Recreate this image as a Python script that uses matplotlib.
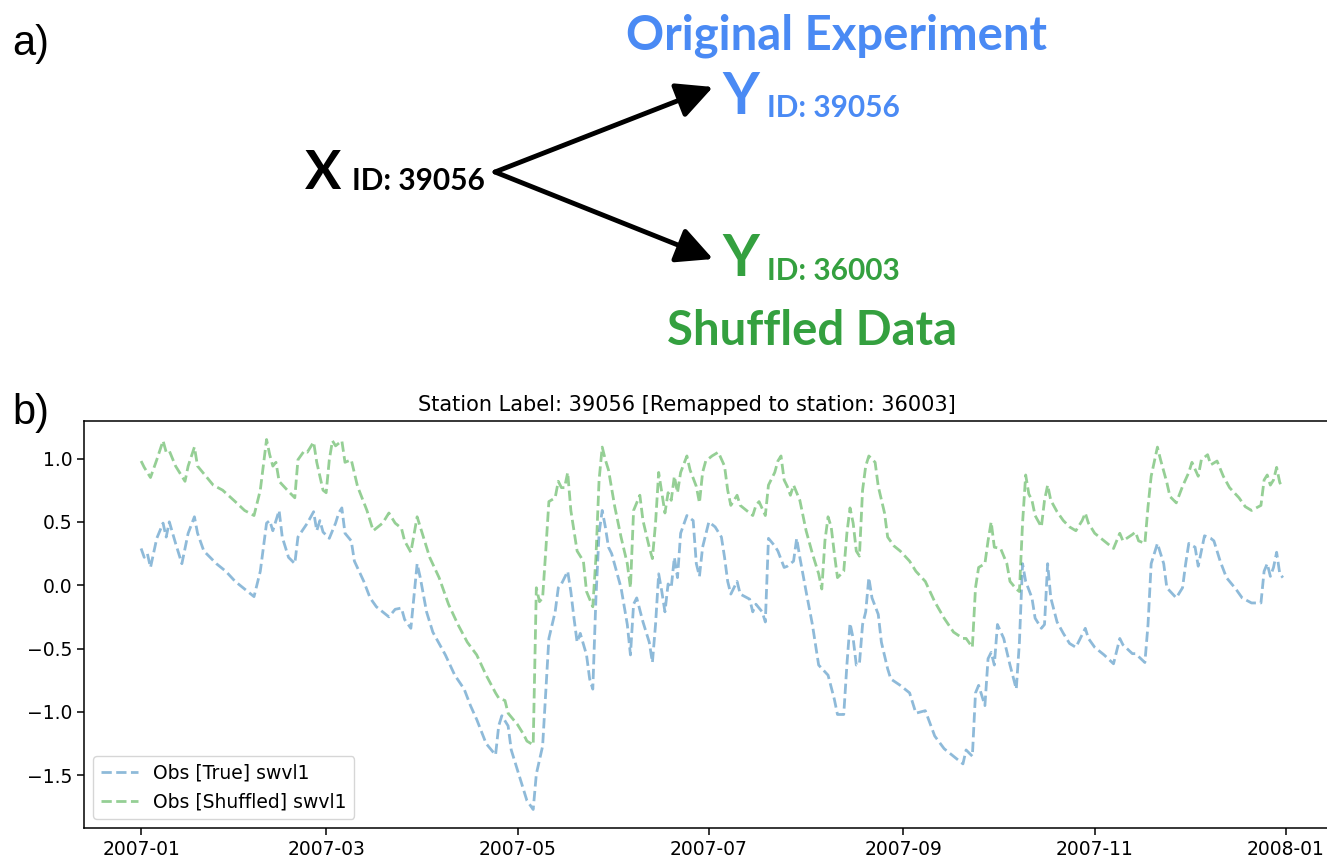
import numpy as np
import pandas as pd
import matplotlib
matplotlib.use("Agg")
import matplotlib.pyplot as plt

# ----------------------------
# Data (day offset from 2007-01-01, value)
# ----------------------------
true_days = [0, 1, 2, 3, 5, 7, 8, 9, 11, 13, 15, 17, 18, 20, 24, 27, 30, 33, 36, 38,
             40, 41, 42, 44, 45, 47, 49, 50, 53, 55, 56, 57, 58, 60, 62, 63, 64, 65, 67, 68,
             71, 73, 75, 79, 81, 83, 84, 86, 88, 89, 91, 93, 97, 100, 103, 105, 107, 110, 113, 114,
             115, 117, 118, 121, 123, 125, 126, 128, 129, 130, 132, 133, 134, 136, 137, 138, 139, 140, 142, 143,
             144, 145, 146, 147, 148, 149, 150, 153, 155, 156, 157, 158, 160, 162, 163, 164, 165, 166, 167, 168,
             169, 170, 171, 172, 174, 176, 177, 178, 179, 181, 183, 185, 186, 187, 188, 189, 190, 191, 194, 195,
             196, 198, 199, 200, 202, 203, 205, 206, 208, 209, 210, 212, 214, 216, 219, 221, 222, 224, 225, 226,
             227, 228, 229, 230, 231, 232, 233, 235, 236, 238, 239, 242, 245, 247, 250, 253, 256, 259, 261, 262,
             263, 265, 266, 267, 269, 270, 271, 272, 273, 275, 277, 279, 280, 281, 282, 284, 285, 287, 288, 289,
             290, 292, 294, 296, 298, 300, 301, 302, 304, 307, 310, 312, 313, 316, 317, 320, 321, 322, 324, 326,
             327, 330, 332, 333, 334, 336, 337, 338, 339, 341, 342, 344, 346, 349, 351, 354, 357, 358, 359, 360,
             361, 362, 363, 364]
true_vals = [0.29, 0.22, 0.25, 0.14, 0.37, 0.49, 0.38, 0.50, 0.33, 0.17, 0.41, 0.54, 0.41, 0.27, 0.17, 0.11, 0.03, -0.03, -0.09, 0.11,
             0.49, 0.51, 0.43, 0.59, 0.38, 0.22, 0.17, 0.38, 0.49, 0.58, 0.43, 0.51, 0.42, 0.37, 0.49, 0.57, 0.61, 0.41, 0.35, 0.19,
             0.03, -0.10, -0.17, -0.25, -0.19, -0.18, -0.27, -0.34, 0.17, 0.06, -0.21, -0.37, -0.55, -0.71, -0.82, -0.95, -1.06, -1.25, -1.34, -1.11,
             -1.03, -1.11, -1.30, -1.54, -1.70, -1.77, -1.49, -1.27, -0.85, -0.42, -0.21, -0.02, 0.01, 0.11, -0.05, -0.26, -0.45, -0.38, -0.55, -0.74,
             -0.82, -0.10, 0.41, 0.59, 0.46, 0.30, 0.25, -0.02, -0.31, -0.55, -0.15, -0.10, -0.29, -0.45, -0.61, -0.31, 0.09, -0.05, -0.21, 0.01,
             -0.02, 0.22, 0.06, 0.41, 0.55, 0.51, 0.17, 0.07, 0.30, 0.50, 0.46, 0.38, 0.22, 0.03, -0.07, -0.02, 0.03, -0.07, -0.11, -0.21,
             -0.15, -0.21, -0.29, 0.37, 0.31, 0.27, 0.14, 0.15, 0.19, 0.37, 0.22, -0.05, -0.31, -0.63, -0.71, -0.90, -1.02, -1.02, -0.63, -0.30,
             -0.42, -0.63, -0.62, -0.31, -0.21, 0.06, -0.10, -0.23, -0.45, -0.66, -0.74, -0.79, -0.85, -1.01, -0.99, -1.19, -1.29, -1.35, -1.39, -1.41,
             -1.30, -1.35, -0.85, -0.79, -0.95, -0.58, -0.53, -0.63, -0.31, -0.42, -0.63, -0.82, -0.45, 0.17, 0.03, -0.10, -0.26, -0.34, -0.31, 0.17,
             -0.10, -0.29, -0.38, -0.46, -0.49, -0.39, -0.34, -0.42, -0.49, -0.55, -0.62, -0.42, -0.47, -0.54, -0.54, -0.61, -0.31, 0.17, 0.33, 0.17,
             -0.02, -0.10, -0.02, 0.17, 0.33, 0.30, 0.15, 0.27, 0.39, 0.37, 0.35, 0.19, 0.06, -0.03, -0.10, -0.14, -0.14, 0.11, 0.17, 0.07,
             0.14, 0.26, 0.09, 0.06]

shuf_days = [0, 1, 3, 5, 7, 8, 9, 11, 14, 15, 17, 18, 21, 23, 26, 30, 33, 36, 38, 40,
             41, 42, 43, 44, 47, 49, 50, 52, 53, 55, 56, 58, 59, 60, 61, 62, 64, 65, 67, 69,
             72, 74, 77, 79, 81, 83, 84, 86, 88, 90, 92, 95, 98, 101, 104, 107, 110, 113, 114, 116,
             117, 120, 122, 123, 125, 126, 127, 128, 129, 130, 132, 133, 134, 135, 136, 137, 139, 141, 142, 144,
             145, 146, 147, 148, 149, 151, 153, 155, 156, 157, 159, 160, 162, 163, 164, 165, 166, 167, 168, 169,
             170, 171, 172, 174, 175, 177, 178, 179, 180, 182, 184, 186, 187, 188, 190, 191, 193, 195, 196, 197,
             199, 200, 202, 203, 204, 205, 206, 207, 208, 210, 212, 214, 216, 217, 218, 219, 220, 221, 222, 224,
             225, 226, 227, 228, 229, 230, 231, 232, 234, 235, 237, 238, 240, 242, 245, 247, 250, 253, 256, 259,
             262, 263, 265, 266, 267, 269, 270, 271, 272, 274, 276, 277, 279, 280, 281, 282, 283, 284, 285, 287,
             288, 289, 290, 292, 294, 296, 298, 300, 301, 302, 304, 307, 310, 312, 313, 316, 317, 318, 320, 321,
             322, 324, 325, 327, 328, 330, 332, 334, 335, 337, 338, 340, 341, 343, 345, 347, 350, 352, 354, 357,
             358, 359, 360, 361, 362, 363, 364]
shuf_vals = [0.98, 0.93, 0.85, 0.99, 1.14, 1.05, 1.06, 0.94, 0.82, 0.94, 1.09, 0.94, 0.85, 0.79, 0.75, 0.66, 0.59, 0.55, 0.75, 1.15,
             1.03, 0.94, 0.97, 0.82, 0.74, 0.69, 0.99, 1.06, 1.05, 1.13, 0.97, 0.75, 0.73, 0.99, 1.14, 1.10, 1.14, 0.97, 0.99, 0.78,
             0.59, 0.43, 0.49, 0.57, 0.49, 0.45, 0.35, 0.26, 0.54, 0.38, 0.22, 0.06, -0.15, -0.31, -0.45, -0.55, -0.71, -0.85, -0.89, -0.91,
             -1.01, -1.10, -1.18, -1.23, -1.26, -0.02, -0.13, -0.10, 0.27, 0.66, 0.69, 0.82, 0.77, 0.77, 0.89, 0.59, 0.27, 0.19, -0.05, -0.17,
             0.22, 0.83, 1.09, 0.99, 0.91, 0.62, 0.38, 0.17, -0.02, 0.59, 0.71, 0.51, 0.30, 0.21, 0.49, 0.89, 0.73, 0.57, 0.73, 0.67,
             0.86, 0.73, 0.89, 1.02, 0.91, 0.78, 0.65, 0.89, 0.98, 1.02, 1.05, 0.94, 0.75, 0.63, 0.71, 0.63, 0.59, 0.55, 0.63, 0.66,
             0.55, 0.79, 0.89, 0.98, 1.02, 0.83, 0.78, 0.71, 0.79, 0.67, 0.43, 0.25, 0.09, -0.03, 0.35, 0.54, 0.46, 0.25, 0.06, 0.11,
             0.41, 0.61, 0.49, 0.27, 0.23, 0.75, 0.94, 1.02, 0.97, 0.78, 0.57, 0.38, 0.31, 0.27, 0.19, 0.11, 0.03, -0.13, -0.26, -0.37,
             -0.42, -0.42, -0.49, -0.02, 0.14, 0.17, 0.35, 0.50, 0.30, 0.29, 0.17, 0.03, -0.03, -0.05, 0.49, 0.87, 0.72, 0.67, 0.55, 0.46,
             0.67, 0.79, 0.67, 0.58, 0.51, 0.46, 0.43, 0.51, 0.57, 0.49, 0.41, 0.35, 0.29, 0.41, 0.35, 0.40, 0.42, 0.35, 0.33, 0.62,
             0.86, 1.09, 0.99, 0.81, 0.70, 0.65, 0.78, 0.89, 0.97, 0.86, 0.99, 1.03, 0.95, 0.98, 0.86, 0.77, 0.69, 0.62, 0.59, 0.63,
             0.83, 0.87, 0.79, 0.83, 0.93, 0.81, 0.77]

start = pd.Timestamp("2007-01-01")
true_dates = start + pd.to_timedelta(true_days, unit="D")
shuf_dates = start + pd.to_timedelta(shuf_days, unit="D")

W, H = 1327, 861
BLUE = "#4a8af4"
GREEN = "#34a03f"

plt.rcParams["font.size"] = 13.5
fig = plt.figure(figsize=(W / 100, H / 100), dpi=100)

# ----------------------------
# b) time series (axes runs past the right edge, as in the cropped original)
# ----------------------------
ax = fig.add_axes([84 / W, 33 / H, (1340 - 84) / W, 407 / H])
ax.plot(true_dates, true_vals, "--", color="C0", alpha=0.5, lw=2.0,
        label="Obs [True] swvl1")
ax.plot(shuf_dates, shuf_vals, "--", color="C2", alpha=0.5, lw=2.0,
        label="Obs [Shuffled] swvl1")
ax.set_title("Station Label: 39056 [Remapped to station: 36003]", fontsize=15,
             x=0.48, pad=7)
ax.legend(loc="lower left", fontsize=13.5)
ax.tick_params(length=5, width=1.1)
for s in ax.spines.values():
    s.set_linewidth(1.1)
ax.spines["right"].set_visible(False)

# ----------------------------
# a) diagram, in pixel coords
# ----------------------------
top = fig.add_axes([0, 0, 1, 1], zorder=-1)
top.set_xlim(0, W)
top.set_ylim(H, 0)
top.axis("off")

big = dict(family="Lato", fontweight="bold")
top.text(12, 55, "a)", fontsize=30, family="Liberation Sans", va="baseline")
top.text(12, 424, "b)", fontsize=30, family="Liberation Sans", va="baseline")

top.text(836, 50, "Original Experiment", color=BLUE, fontsize=34, ha="center", va="baseline", **big)
top.text(722, 114, "Y", color=BLUE, fontsize=41, va="baseline", **big)
top.text(767, 117, "ID: 39056", color=BLUE, fontsize=21.5, va="baseline", **big)

top.text(305, 189, "X", color="black", fontsize=39, va="baseline", **big)
top.text(352, 190, "ID: 39056", color="black", fontsize=21.5, va="baseline", **big)

top.text(722, 276, "Y", color=GREEN, fontsize=41, va="baseline", **big)
top.text(767, 280, "ID: 36003", color=GREEN, fontsize=21.5, va="baseline", **big)
top.text(812, 345, "Shuffled Data", color=GREEN, fontsize=34, ha="center", va="baseline", **big)

arrow = dict(arrowstyle="-|>,head_length=1.1,head_width=0.55", lw=3.5, color="black",
             mutation_scale=20, shrinkA=0, shrinkB=0)
top.annotate("", xy=(713, 87), xytext=(495, 172), arrowprops=arrow)
top.annotate("", xy=(713, 259), xytext=(495, 172), arrowprops=arrow)

fig.savefig("out.png", dpi=100)
